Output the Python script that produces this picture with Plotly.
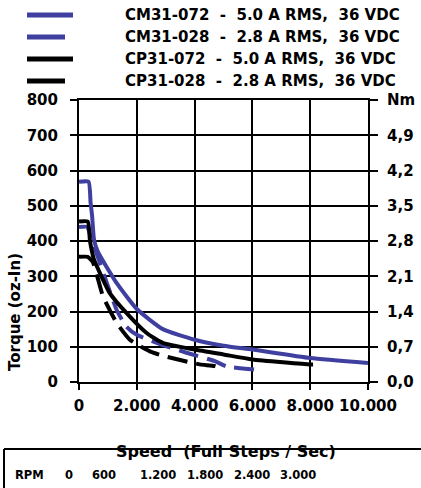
import plotly.graph_objects as go

# ---- data ----
cm072_speed = [0, 330, 400, 450, 520, 650, 1300, 2000, 2900, 4000, 5000, 6000, 8000, 10000]
cm072_torque = [568, 568, 510, 474, 404, 370, 281, 207, 150, 120, 103, 92, 68, 54]

cm028_speed = [0, 280, 380, 650, 960, 1300, 1640, 2000, 3030, 3720, 4700, 5110, 6100]
cm028_torque = [440, 440, 420, 355, 282, 205, 157, 134, 101, 83, 59, 44, 35]

cp072_speed = [0, 300, 380, 450, 520, 1060, 1640, 2340, 2900, 4000, 5000, 6000, 8000, 8100]
cp072_torque = [455, 455, 400, 370, 347, 253, 196, 139, 111, 92, 78, 64, 50, 50]

cp028_speed = [0, 300, 480, 830, 1300, 1760, 2450, 2970, 4180, 4700, 5000]
cp028_torque = [355, 355, 340, 243, 168, 120, 87, 73, 50, 45, 35]

legend_labels = [
    "CM31-072\u00a0 -\u00a0 5.0 A RMS,\u00a0 36 VDC",
    "CM31-028\u00a0 -\u00a0 2.8 A RMS,\u00a0 36 VDC",
    "CP31-072\u00a0 -\u00a0 5.0 A RMS,\u00a0 36 VDC",
    "CP31-028\u00a0 -\u00a0 2.8 A RMS,\u00a0 36 VDC",
]

x_ticks = [0, 2000, 4000, 6000, 8000, 10000]
x_ticktext = ["0", "2.000", "4.000", "6.000", "8.000", "10.000"]
y_ticks = [0, 100, 200, 300, 400, 500, 600, 700, 800]
nm_ticks = [0.0, 0.7, 1.4, 2.1, 2.8, 3.5, 4.2, 4.9, 5.6]
nm_ticktext = ["0,0", "0,7", "1,4", "2,1", "2,8", "3,5", "4,2", "4,9", "Nm"]

rpm_labels = ["RPM", "0", "600", "1.200", "1.800", "2.400", "3.000"]

# ---- styling / layout ----
BLUE = "#3f3fa0"
BLACK = "#000000"
FONT = dict(family="DejaVu Sans", size=15, color="black", weight="bold")

W, H = 421, 488
L, R, T, B = 79, 53, 100, 106
PW, PH = W - L - R, H - T - B


def px(xpix):
    return (xpix - L) / PW


def py(ypix):
    return (H - B - ypix) / PH


fig = go.Figure()
series = [
    (cm072_speed, cm072_torque, BLUE, None),
    (cm028_speed, cm028_torque, BLUE, "20px,9px"),
    (cp072_speed, cp072_torque, BLACK, None),
    (cp028_speed, cp028_torque, BLACK, "20px,9px"),
]
for (sx, sy, col, dash), name in zip(series, legend_labels):
    fig.add_trace(go.Scatter(
        x=sx, y=sy, mode="lines", name=name, showlegend=False,
        line=dict(color=col, width=4, dash=dash, shape="spline", smoothing=0.5),
    ))

# dummy trace to anchor right axis
fig.add_trace(go.Scatter(x=[None], y=[None], yaxis="y2", showlegend=False, hoverinfo="skip"))

fig.update_layout(
    width=W, height=H,
    margin=dict(l=L, r=R, t=T, b=B, autoexpand=False),
    paper_bgcolor="white", plot_bgcolor="white",
    font=FONT,
    showlegend=False,
    xaxis=dict(
        range=[0, 10000], tickvals=x_ticks, ticktext=x_ticktext,
        showgrid=True, gridcolor="black", gridwidth=2,
        showline=True, linecolor="black", linewidth=2, mirror=True,
        ticks="outside", ticklen=6, tickwidth=2, tickcolor="black",
        zeroline=False, tickfont=FONT, ticklabelstandoff=3,
    ),
    yaxis=dict(
        range=[0, 800], tickvals=y_ticks,
        showgrid=True, gridcolor="black", gridwidth=2,
        showline=True, linecolor="black", linewidth=2,
        ticks="outside", ticklen=7, tickwidth=2, tickcolor="black",
        zeroline=False, tickfont=FONT, ticklabelstandoff=9,
    ),
    yaxis2=dict(
        range=[0, 5.6], overlaying="y", side="right",
        tickvals=nm_ticks, ticktext=nm_ticktext,
        showgrid=False, showline=True, linecolor="black", linewidth=2,
        ticks="outside", ticklen=8, tickwidth=2, tickcolor="black",
        zeroline=False, tickfont=FONT, ticklabelstandoff=6,
    ),
)

annotations = []
shapes = []

# legend (manual, as in the reference)
leg_rows_y = [15, 37, 59, 81]
leg_line_end = [73, 65, 73, 65]
leg_colors = [BLUE, BLUE, BLACK, BLACK]
for yy, xe, col, lab in zip(leg_rows_y, leg_line_end, leg_colors, legend_labels):
    shapes.append(dict(type="line", xref="paper", yref="paper",
                       x0=px(27), x1=px(xe), y0=py(yy), y1=py(yy),
                       line=dict(color=col, width=5)))
    annotations.append(dict(text=lab, xref="paper", yref="paper",
                            x=px(123), y=py(yy), xanchor="left", yanchor="middle",
                            showarrow=False, font=FONT))

# axis titles
annotations.append(dict(text="Torque (oz-In)", xref="paper", yref="paper",
                        x=px(15), y=py(312), textangle=-90, showarrow=False,
                        xanchor="center", yanchor="middle", font=FONT))
annotations.append(dict(text="Speed\u00a0 (Full Steps / Sec)", xref="paper", yref="paper",
                        x=px(226), y=py(451), showarrow=False,
                        xanchor="center", yanchor="middle", font=dict(FONT, size=16)))

# RPM row
rpm_x = [13, 69, 104, 158, 205, 252, 298]
rpm_anchor = ["left", "center", "center", "center", "center", "center", "center"]
for lab, xx, anc in zip(rpm_labels, rpm_x, rpm_anchor):
    annotations.append(dict(text=lab, xref="paper", yref="paper",
                            x=px(xx), y=py(475), xanchor=anc, yanchor="middle",
                            showarrow=False, font=dict(FONT, size=11.5)))
shapes.append(dict(type="line", xref="paper", yref="paper",
                   x0=px(4), x1=px(421), y0=py(449), y1=py(449),
                   line=dict(color="black", width=2)))
shapes.append(dict(type="line", xref="paper", yref="paper",
                   x0=px(4), x1=px(4), y0=py(449), y1=py(488),
                   line=dict(color="black", width=2)))

fig.update_layout(annotations=annotations, shapes=shapes)
fig.write_html(
    "out.html",
    config={"displayModeBar": False},
    post_script="document.body.style.margin='0';document.body.style.overflow='hidden';",
)
